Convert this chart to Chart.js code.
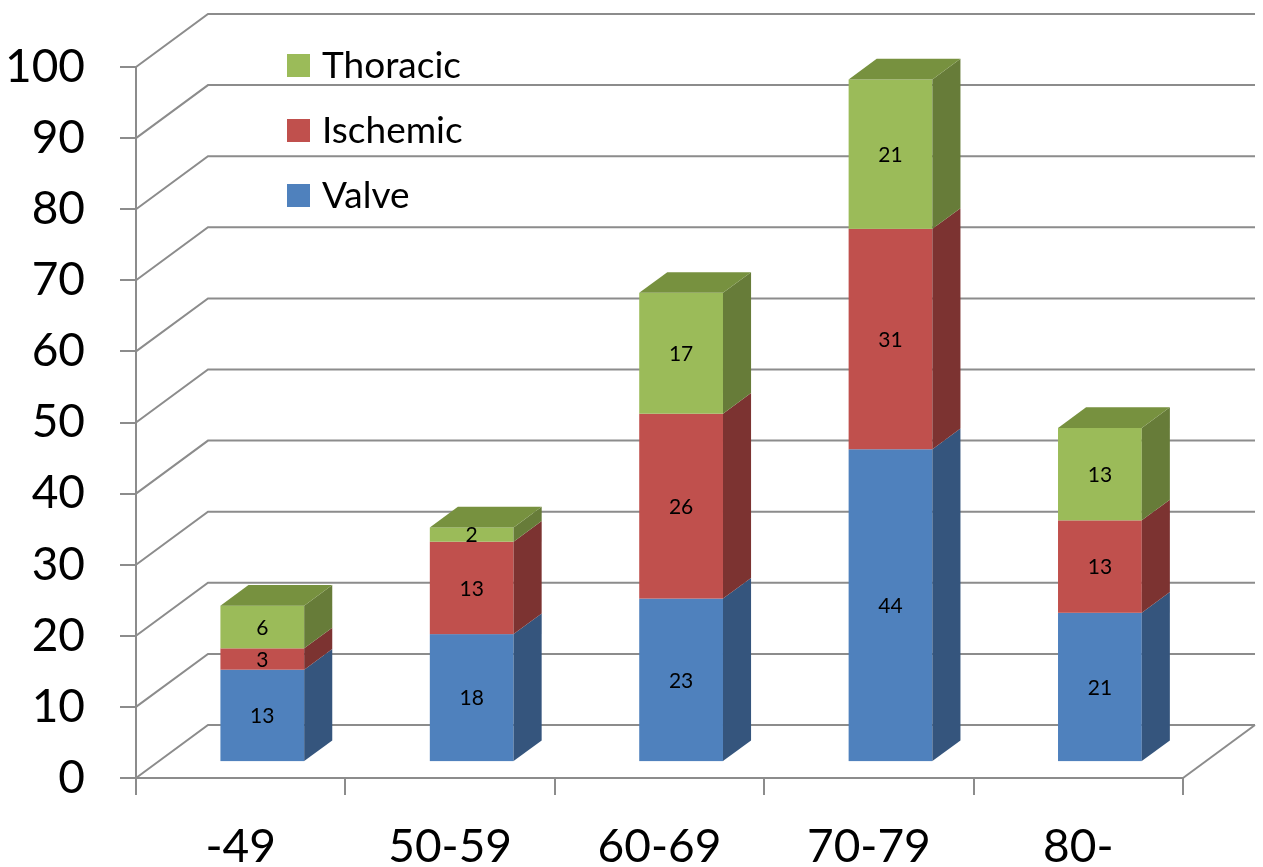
<!DOCTYPE html>
<html>
<head>
<meta charset="utf-8">
<script src="https://cdn.jsdelivr.net/npm/chart.js@4.4.1/dist/chart.umd.min.js"></script>
<style>
  html, body { margin: 0; padding: 0; background: #fff; }
</style>
</head>
<body>
<canvas id="ageChart" width="1263" height="867"></canvas>
<script>
const ageGroups = ['-49', '50-59', '60-69', '70-79', '80-'];
const valve = [13, 18, 23, 44, 21];
const ischemic = [3, 13, 26, 31, 13];
const thoracic = [6, 2, 17, 21, 13];
const yTickValues = [0, 10, 20, 30, 40, 50, 60, 70, 80, 90, 100];

// depth of the 3d box, and where the bars sit inside it
const DEPTH_X = 72, DEPTH_Y = -53;
const BAR_FRONT = 0.30, BAR_DEPTH = 0.39;
const GRID = '#8c8c8c';

Chart.defaults.font.family = 'Lato';
Chart.defaults.color = '#000';

const box3d = {
    id: 'box3d',
    beforeDatasetsDraw(chart) {
        const { ctx, chartArea: a, scales: { y } } = chart;
        ctx.save();
        ctx.strokeStyle = GRID;
        ctx.lineWidth = 2;
        y.ticks.forEach(t => {
            const py = y.getPixelForValue(t.value);
            ctx.beginPath();
            ctx.moveTo(a.left, py);
            ctx.lineTo(a.left + DEPTH_X, py + DEPTH_Y);
            ctx.lineTo(a.right + DEPTH_X, py + DEPTH_Y);
            ctx.stroke();
        });
        ctx.beginPath();
        ctx.moveTo(a.right, a.bottom);
        ctx.lineTo(a.right + DEPTH_X, a.bottom + DEPTH_Y);
        ctx.stroke();

        const ox = BAR_FRONT * DEPTH_X, oy = BAR_FRONT * DEPTH_Y;
        const bx = BAR_DEPTH * DEPTH_X, by = BAR_DEPTH * DEPTH_Y;
        const sets = chart.data.datasets;
        for (let j = 0; j < ageGroups.length; j++) {
            sets.forEach((ds, i) => {
                const el = chart.getDatasetMeta(i).data[j];
                const l = el.x - el.width / 2 + ox, r = el.x + el.width / 2 + ox;
                const t = el.y + oy, b = el.base + oy;
                ctx.fillStyle = ds.backgroundColor;
                ctx.fillRect(l, t, r - l, b - t);
                ctx.fillStyle = ds.sideColor;
                ctx.beginPath();
                ctx.moveTo(r, b); ctx.lineTo(r, t); ctx.lineTo(r + bx, t + by); ctx.lineTo(r + bx, b + by);
                ctx.closePath(); ctx.fill();
                if (i === sets.length - 1) {
                    ctx.fillStyle = ds.topColor;
                    ctx.beginPath();
                    ctx.moveTo(l, t); ctx.lineTo(r, t); ctx.lineTo(r + bx, t + by); ctx.lineTo(l + bx, t + by);
                    ctx.closePath(); ctx.fill();
                }
                ctx.fillStyle = '#000';
                ctx.font = '21px Lato';
                ctx.textAlign = 'center';
                ctx.textBaseline = 'middle';
                ctx.fillText(ds.data[j], (l + r) / 2, (t + b) / 2 + 1);
            });
        }
        ctx.restore();
        return false;
    },
    afterDraw(chart) {
        const { ctx } = chart;
        ctx.save();
        ctx.font = '37px Lato';
        ctx.textAlign = 'left';
        ctx.textBaseline = 'middle';
        chart.data.datasets.slice().reverse().forEach((ds, i) => {
            const top = 54 + i * 65;
            ctx.fillStyle = ds.backgroundColor;
            ctx.fillRect(287, top, 23, 23);
            ctx.fillStyle = '#000';
            ctx.fillText(ds.label, 322, top + 12);
        });
        ctx.restore();
    }
};

new Chart(document.querySelector('#ageChart').getContext('2d'), {
    type: 'bar',
    data: {
        labels: ageGroups,
        datasets: [
            { label: 'Valve', data: valve, backgroundColor: '#4f81bd', sideColor: '#35557d' },
            { label: 'Ischemic', data: ischemic, backgroundColor: '#c0504d', sideColor: '#7c3331' },
            { label: 'Thoracic', data: thoracic, backgroundColor: '#9bbb59', sideColor: '#677c39', topColor: '#77913f' }
        ]
    },
    options: {
        responsive: false,
        animation: false,
        layout: { padding: { top: 67, right: 80, left: 0, bottom: 0 } },
        plugins: { legend: { display: false }, tooltip: { enabled: false } },
        datasets: { bar: { barPercentage: 0.4, categoryPercentage: 1 } },
        scales: {
            x: {
                stacked: true,
                afterFit: s => { s.height = 89; },
                grid: { drawOnChartArea: false, color: GRID, lineWidth: 2, tickLength: 17, offset: true },
                border: { color: GRID, width: 2 },
                ticks: { font: { size: 46 }, padding: 25 }
            },
            y: {
                stacked: true,
                min: 0,
                max: 100,
                afterFit: s => { s.width = 136; },
                afterBuildTicks: s => { s.ticks = yTickValues.map(v => ({ value: v })); },
                grid: { drawOnChartArea: false, color: GRID, lineWidth: 2, tickLength: 16 },
                border: { color: GRID, width: 2 },
                ticks: { font: { size: 46 }, padding: 35 }
            }
        }
    },
    plugins: [box3d]
});
</script>
</body>
</html>
